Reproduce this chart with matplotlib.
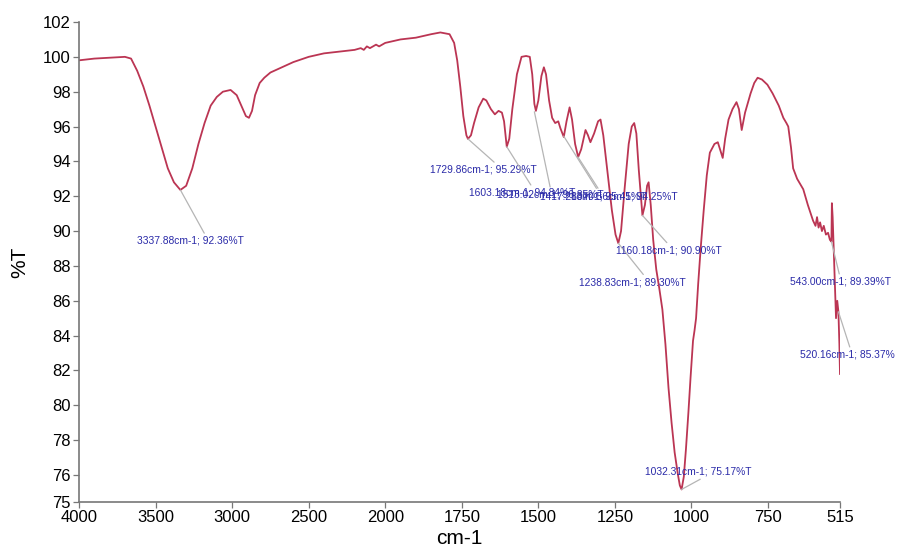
import numpy as np
import matplotlib
matplotlib.use("Agg")
import matplotlib.pyplot as plt

plt.rcParams["font.family"] = ["Liberation Sans", "DejaVu Sans"]

# spectrum (wavenumber cm-1, %T)
wavenumber = [
    4000, 3900, 3800, 3700, 3660, 3620, 3580, 3540, 3500, 3460, 3420, 3380,
    3337.88, 3300, 3260, 3220, 3180, 3140, 3100, 3060, 3010, 2970, 2940, 2910,
    2890, 2870, 2850, 2820, 2790, 2750, 2700, 2600, 2500, 2400, 2300, 2200,
    2160, 2140, 2120, 2100, 2080, 2060, 2040, 2000, 1950, 1900, 1850, 1820,
    1790, 1775, 1765, 1755, 1745, 1735, 1729.86, 1720, 1710, 1695, 1680, 1670,
    1655, 1642, 1630, 1619, 1612, 1603.18, 1595, 1585, 1570, 1555, 1540, 1528,
    1520, 1513, 1508, 1500, 1490, 1482, 1475, 1465, 1455, 1445, 1435, 1428,
    1417, 1408, 1398, 1390, 1380, 1370, 1360, 1346, 1338, 1330, 1318, 1305,
    1297, 1288, 1275, 1260, 1248, 1238.83, 1230, 1218, 1205, 1195, 1187, 1180,
    1172, 1160.18, 1152, 1145, 1140, 1133, 1125, 1115, 1105, 1095, 1085, 1075,
    1065, 1055, 1045, 1038, 1032.31, 1025, 1018, 1010, 1003, 995, 990, 985,
    978, 970, 960, 950, 940, 925, 914, 905, 898, 890, 879, 866, 853, 845, 836,
    825, 807, 795, 784, 770, 752, 735, 715, 700, 690, 684, 675, 668, 655, 635,
    620, 603, 595, 590, 585, 580, 574, 568, 561, 554, 548, 543, 541.5, 539,
    536, 532, 528, 524, 520.16, 517, 515,
]
transmittance = [
    99.8, 99.9, 99.95, 100.0, 99.9, 99.2, 98.3, 97.2, 96.0, 94.8, 93.6, 92.8,
    92.36, 92.6, 93.6, 95.0, 96.2, 97.2, 97.7, 98.0, 98.1, 97.8, 97.2, 96.6,
    96.5, 96.9, 97.8, 98.5, 98.8, 99.1, 99.3, 99.7, 100.0, 100.2, 100.3, 100.4,
    100.5, 100.4, 100.6, 100.5, 100.6, 100.7, 100.6, 100.8, 101.0, 101.1, 101.3, 101.4,
    101.3, 100.8, 99.8, 98.3, 96.6, 95.5, 95.29, 95.5, 96.2, 97.1, 97.6, 97.5,
    97.0, 96.7, 96.9, 96.8, 96.3, 94.84, 95.3, 97.0, 99.0, 100.0, 100.05, 100.0,
    99.0, 97.3, 96.9, 97.5, 98.9, 99.4, 99.0, 97.5, 96.5, 96.2, 96.3, 95.9,
    95.4, 96.3, 97.1, 96.4, 95.0, 94.25, 94.7, 95.8, 95.5, 95.1, 95.6, 96.3,
    96.4, 95.5, 93.5, 91.2, 89.8, 89.30, 90.0, 92.5, 95.0, 96.0, 96.2, 95.6,
    93.5, 90.90, 91.5, 92.6, 92.8, 91.5, 89.5, 87.8, 86.7, 85.5, 83.5, 81.0,
    79.0, 77.3, 76.1, 75.4, 75.17, 75.9, 77.5, 79.6, 81.6, 83.7, 84.3, 85.0,
    87.0, 89.0, 91.2, 93.2, 94.5, 95.0, 95.1, 94.6, 94.2, 95.3, 96.4, 97.0, 97.4, 97.0, 95.8,
    96.8, 97.9, 98.5, 98.8, 98.7, 98.4, 97.9, 97.2, 96.5, 96.2, 96.0, 94.8, 93.6, 93.0, 92.4,
    91.5, 90.6, 90.3, 90.8, 90.2, 90.5, 90.0, 90.3, 89.8, 89.9, 89.5, 89.39, 91.6, 90.8,
    89.2, 87.0, 85.0, 86.0, 85.37, 83.5, 81.8,
]

# labelled peaks
peak_wn = [3337.88, 1729.86, 1603.18, 1513.02, 1417.28, 1370.56,
           1238.83, 1160.18, 1032.31, 543.00, 520.16]
peak_t = [92.36, 95.29, 94.84, 96.85, 95.45, 94.25,
          89.30, 90.90, 75.17, 89.39, 85.37]
peak_text = [
    "3337.88cm-1; 92.36%T", "1729.86cm-1; 95.29%T", "1603.18cm-1; 94.84%T",
    "1513.02cm-1; 96.85%T", "1417.28cm-1; 95.45%T", "1370.56cm-1; 94.25%T",
    "1238.83cm-1; 89.30%T", "1160.18cm-1; 90.90%T", "1032.31cm-1; 75.17%T",
    "543.00cm-1; 89.39%T", "520.16cm-1; 85.37%",
]

x_ticks = [4000, 3500, 3000, 2500, 2000, 1750, 1500, 1250, 1000, 750, 515]
y_ticks = list(range(76, 103, 2))

# label placement: offset in pixels from the peak, and where the leader meets the text
label_offsets = [(-43, -51), (-38, -31), (-38, -46), (-37, -83), (-24, -60), (-7, -39),
                 (-39, -39), (-26, -35), (-37, 18), (-41, -40), (-38, -43)]
label_relpos = [(0.64, 1), (0.63, 1), (0.6, 1), (0.5, 1), (0.55, 1), (0.27, 1),
                (0.62, 1), (0.5, 1), (0.57, 0), (0.49, 1), (0.53, 1)]


def fwd(w):
    w = np.asarray(w, dtype=float)
    return np.where(w > 2000, 2000 + (w - 2000) / 2.0, w)


def inv(p):
    p = np.asarray(p, dtype=float)
    return np.where(p > 2000, 2000 + (p - 2000) * 2.0, p)


fig = plt.figure(figsize=(9.2, 5.58), dpi=100)
ax = fig.add_axes([79 / 920, 1 - 502 / 558, 761 / 920, 480 / 558])

ax.plot(wavenumber, transmittance, color="#bb3553", lw=1.3)

ax.set_xscale("function", functions=(fwd, inv))
ax.set_xlim(4000, 515)
y_bottom = 74.45
ax.set_ylim(y_bottom, 102)
ax.set_xticks(x_ticks)
ax.set_xticklabels([str(t) for t in x_ticks])
ax.set_yticks(y_ticks + [y_bottom])
ax.set_yticklabels([str(t) for t in y_ticks] + ["75"])
ax.minorticks_off()

for side in ["top", "right"]:
    ax.spines[side].set_visible(False)
for side in ["left", "bottom"]:
    ax.spines[side].set_color("#777777")
    ax.spines[side].set_linewidth(1.2)
ax.tick_params(length=4, width=0.9, color="#777777", labelsize=12, pad=2)

ax.set_ylabel("%T", fontsize=15, labelpad=10)
ax.set_xlabel("cm-1", fontsize=15, labelpad=3)

for wn, t, txt, off, rp in zip(peak_wn, peak_t, peak_text, label_offsets, label_relpos):
    ax.annotate(txt, xy=(wn, t), xytext=off, textcoords="offset pixels",
                ha="left", va="center", fontsize=7.4, color="#2a2aa8",
                annotation_clip=False,
                arrowprops=dict(arrowstyle="-", color="#b5b5b5", lw=0.9,
                                shrinkA=0, shrinkB=0, relpos=rp))

fig.savefig("out.png", dpi=100)
